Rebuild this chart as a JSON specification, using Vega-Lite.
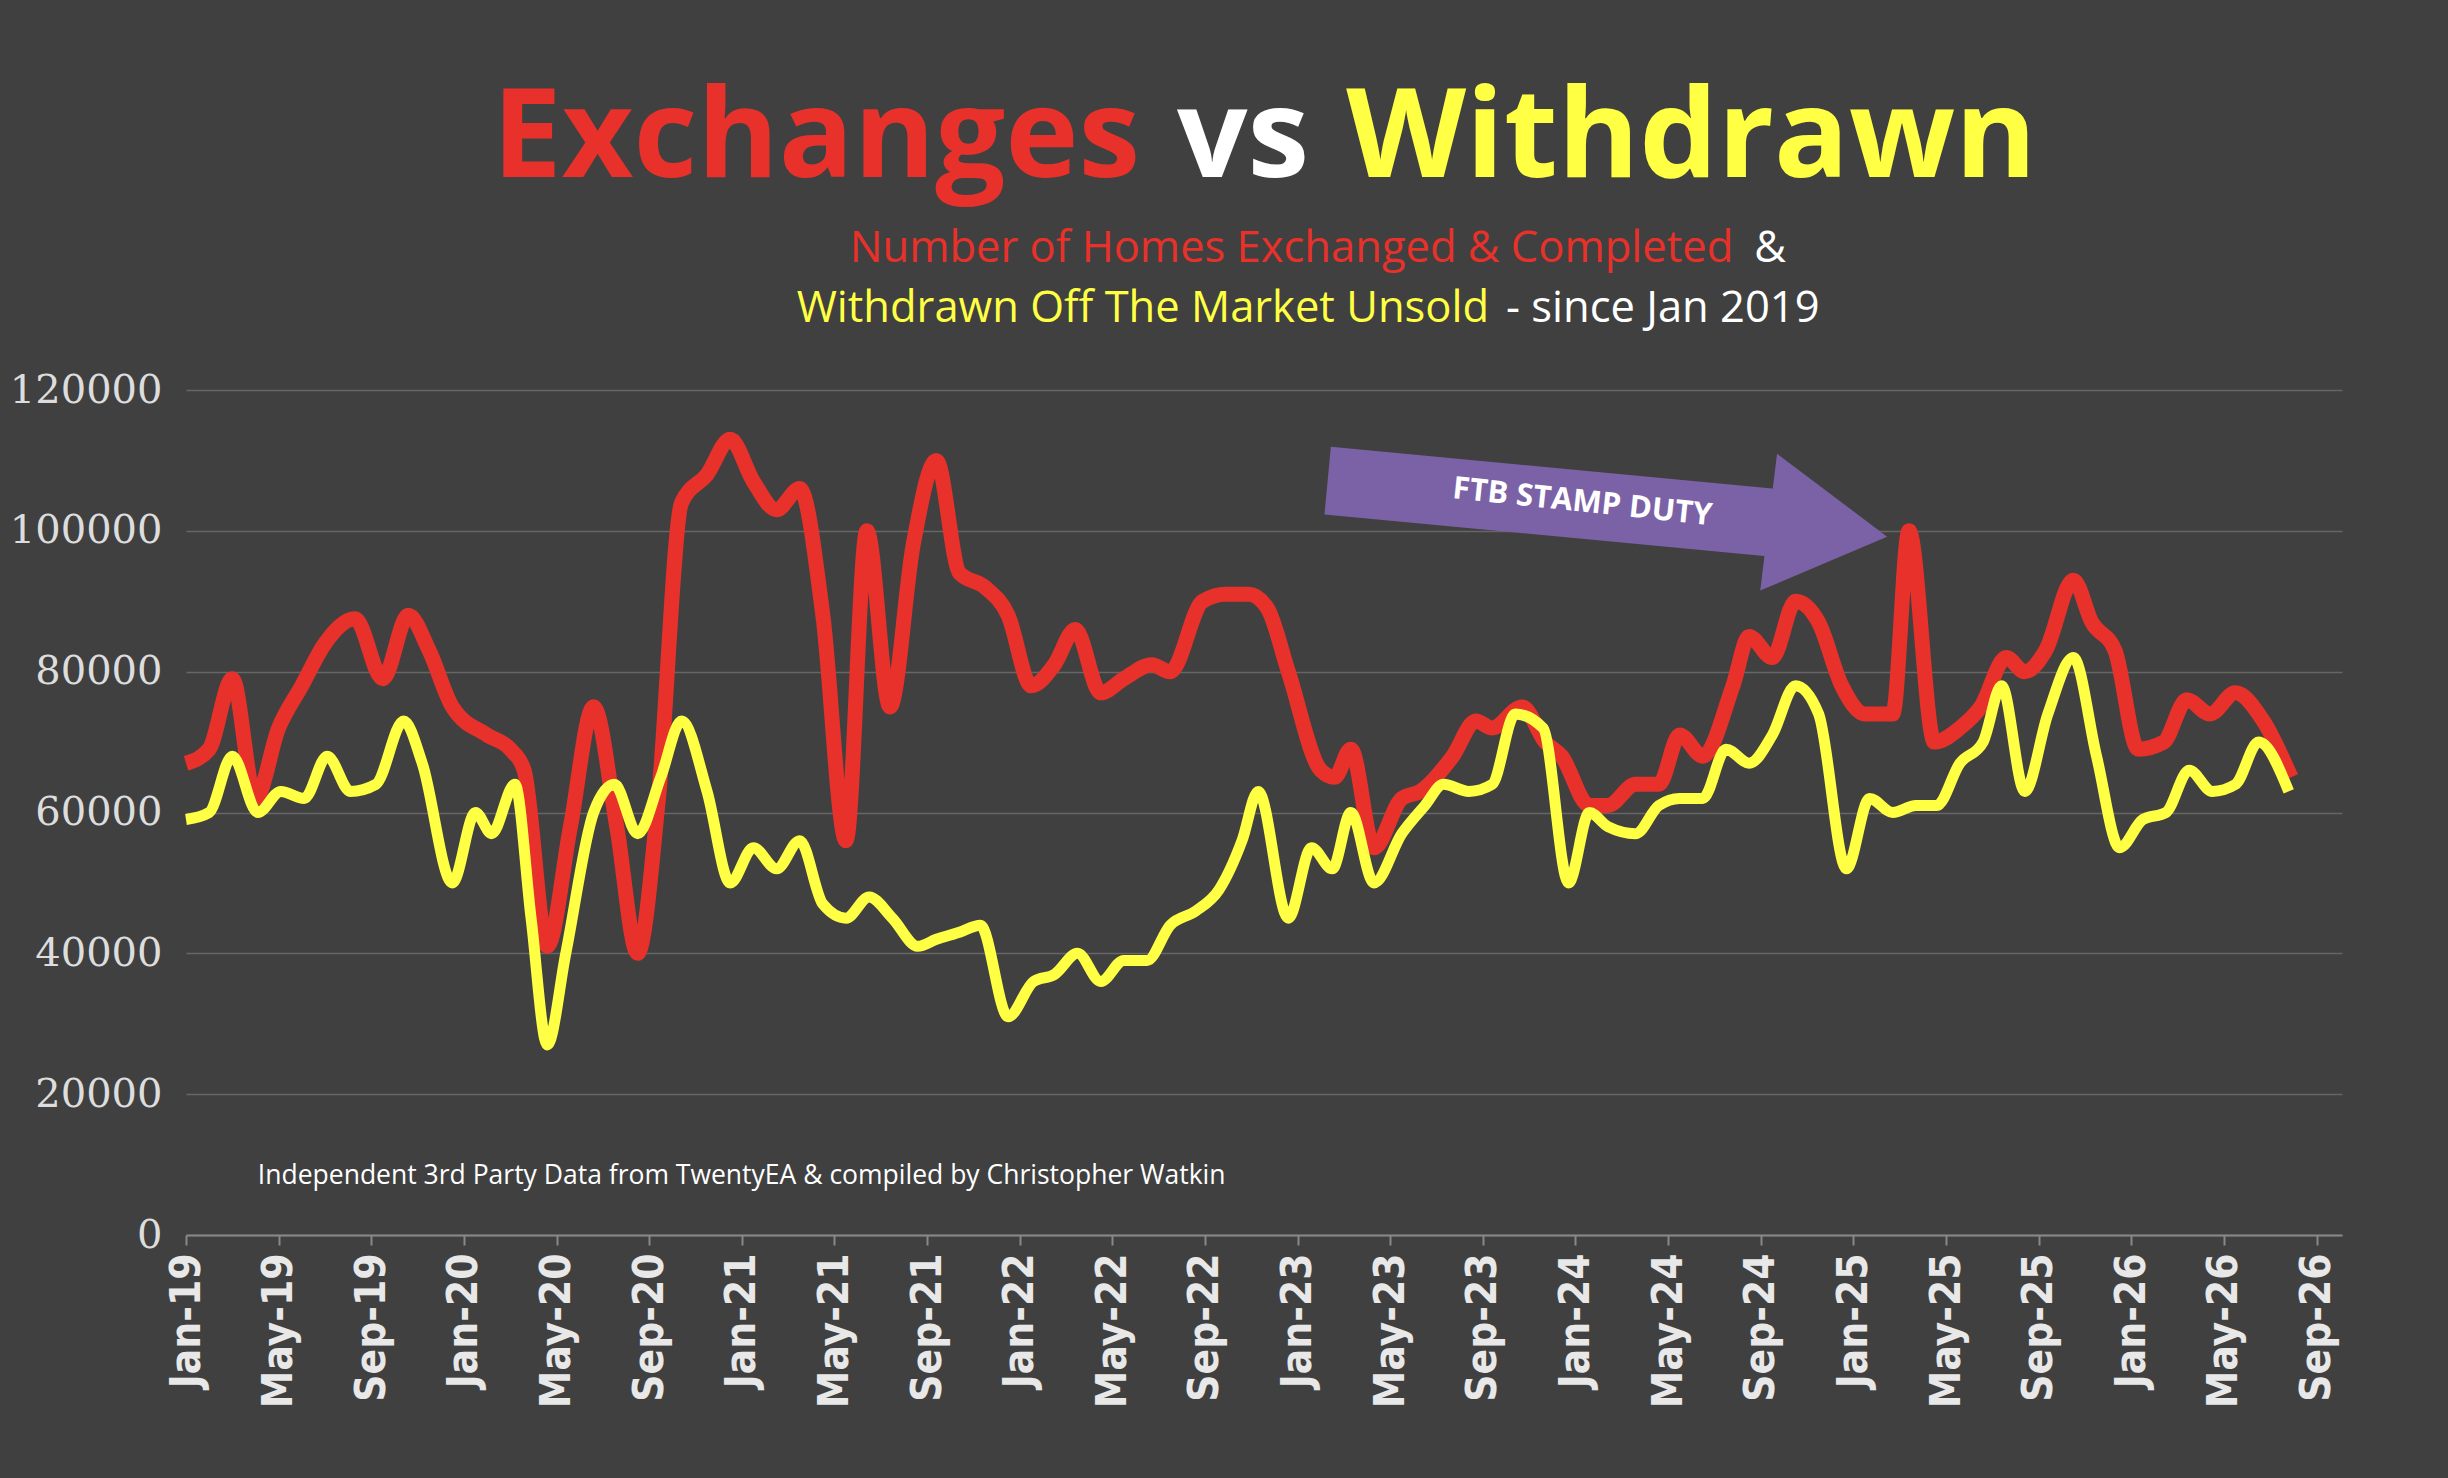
{
"$schema":"https://vega.github.io/schema/vega-lite/v6.json",
"width":2156,"height":845,
"autosize":{"type":"none"},
"padding":{"left":186,"top":390,"right":106,"bottom":243},
"background":"#404040",
"config":{"view":{"stroke":null}},
"datasets":{
"red":[[0,67000],[1,69000],[2,79000],[3,62000],[4,72000],[5,78000],[6,84000],[7.3,87500],[8.5,79000],[9.6,88000],[10.5,83000],[11.5,75000],[13,71000],[14,69000],[14.6,66000],[15.6,41000],[16.6,58000],[17.6,75000],[18.6,58000],[19.5,40000],[20.4,62000],[21.4,104000],[22.5,108000],[23.5,113000],[24.5,107000],[25.5,103000],[26.5,106000],[27.5,88000],[28.5,56000],[29.4,100000],[30.4,75000],[31.4,98000],[32.4,110000],[33.4,94000],[34.5,92000],[35.5,88000],[36.5,78000],[37.5,81000],[38.4,86000],[39.5,77000],[40.5,79000],[41.7,81000],[42.5,80000],[43.9,90000],[44.9,91000],[45.9,91000],[46.7,89000],[47.6,80000],[49,66000],[49.6,65000],[50.3,69000],[51.3,55000],[52.5,62000],[53.3,63000],[54.7,68000],[55.7,73000],[56.4,72000],[57.7,75000],[58.7,70000],[59.4,68000],[60.6,61000],[61.4,61000],[62.6,64000],[63.6,64000],[64.5,71000],[65.5,68000],[66.8,78000],[67.5,85000],[68.5,82000],[69.5,90000],[70.5,87000],[71.5,78000],[72.5,74000],[73.7,74000],[74.4,100000],[75.5,70000],[76.6,72000],[77.5,75000],[78.6,82000],[79.4,80000],[80.3,83000],[81.5,93000],[82.3,87000],[83.3,83000],[84.3,69000],[85.4,70000],[86.4,76000],[87.4,74000],[88.5,77000],[89.7,73000],[90.9,65000]],
"yellow":[[0,59000],[1,60000],[2,68000],[3.1,60000],[4.1,63000],[5.1,62000],[6.1,68000],[7.1,63000],[8.2,64000],[9.4,73000],[10.2,67000],[11.5,50000],[12.5,60000],[13.2,57000],[14.2,64000],[14.9,45000],[15.6,27000],[16.4,40000],[17.6,60000],[18.5,64000],[19.5,57000],[20.5,65000],[21.4,73000],[22.5,63000],[23.5,50000],[24.5,55000],[25.5,52000],[26.5,56000],[27.5,47000],[28.5,45000],[29.5,48000],[30.5,45000],[31.6,41000],[32.4,42000],[33.4,43000],[34.3,44000],[35.5,31000],[36.6,36000],[37.5,37000],[38.5,40000],[39.5,36000],[40.5,39000],[41.5,39000],[42.5,44000],[43.6,46000],[44.6,49000],[45.6,56000],[46.3,63000],[47.6,45000],[48.6,55000],[49.5,52000],[50.3,60000],[51.3,50000],[52.5,57000],[53.5,61000],[54.3,64000],[55.4,63000],[56.4,64000],[57.4,74000],[58.6,72000],[59.7,50000],[60.6,60000],[61.4,58000],[62.6,57000],[63.6,61000],[64.5,62000],[65.5,62000],[66.5,69000],[67.5,67000],[68.5,71000],[69.5,78000],[70.5,74000],[71.7,52000],[72.7,62000],[73.7,60000],[74.7,61000],[75.6,61000],[76.6,67000],[77.6,70000],[78.4,78000],[79.4,63000],[80.4,74000],[81.5,82000],[82.5,68000],[83.5,55000],[84.5,59000],[85.5,60000],[86.5,66000],[87.5,63000],[88.5,64000],[89.5,70000],[90.8,63000]]
},
"layer":[
{"data":{"name":"red"},"transform":[{"calculate":"datum[0]","as":"m"},{"calculate":"datum[1]","as":"v"}],
 "mark":{"type":"line","interpolate":"monotone","color":"#e8312a","strokeWidth":15,"strokeJoin":"round"},
 "encoding":{
  "x":{"field":"m","type":"quantitative","scale":{"domain":[0,93.1],"nice":false,"zero":false},
   "axis":{"values":[0,4,8,12,16,20,24,28,32,36,40,44,48,52,56,60,64,68,72,76,80,84,88,92],"labelExpr":"timeFormat(datetime(2019, datum.value, 1), '%b-%y')","labelAngle":-90,"labelFont":"DejaVu Sans Condensed","labelFontWeight":"bold","labelFontSize":42,"labelColor":"#e8e8e8","labelPadding":8,"title":null,"grid":false,"domainColor":"#888","domainWidth":2,"tickColor":"#888","tickSize":10,"tickWidth":2}},
  "y":{"field":"v","type":"quantitative","scale":{"domain":[0,120000],"nice":false},
   "axis":{"values":[0,20000,40000,60000,80000,100000,120000],"format":"d","labelFont":"DejaVu Serif","labelFontSize":40,"labelColor":"#dddddd","labelPadding":24,"title":null,"domain":false,"ticks":false,"gridColor":"#666","gridWidth":1.5}}}},
{"data":{"name":"yellow"},"transform":[{"calculate":"datum[0]","as":"m"},{"calculate":"datum[1]","as":"v"}],
 "mark":{"type":"line","interpolate":"monotone","color":"#ffff44","strokeWidth":11,"strokeJoin":"round"},
 "encoding":{"x":{"field":"m","type":"quantitative"},"y":{"field":"v","type":"quantitative"}}},
{"data":{"values":[{}]},"mark":{"type":"rule","color":"#7b62a6","strokeWidth":68,"strokeCap":"butt"},
 "encoding":{"x":{"datum":49.3},"y":{"datum":107140},"x2":{"datum":70.3},"y2":{"datum":100600}}},
{"data":{"values":[{}]},"mark":{"type":"point","shape":"triangle-right","filled":true,"color":"#7b62a6","size":19000,"angle":7,"opacity":1},
 "encoding":{"x":{"datum":70.9},"y":{"datum":100200}}},
{"data":{"values":[{"t":"FTB STAMP DUTY"}]},"mark":{"type":"text","font":"Open Sans","fontWeight":"bold","fontSize":31,"color":"white","angle":6},
 "encoding":{"x":{"datum":60.3},"y":{"datum":104000},"text":{"field":"t"}}},
{"data":{"values":[{"t":"Exchanges"}]},"mark":{"type":"text","font":"Open Sans","fontWeight":"bold","fontSize":124,"color":"#e8312a","align":"right"},
 "encoding":{"x":{"datum":41.2},"y":{"datum":155500},"text":{"field":"t"}}},
{"data":{"values":[{"t":"vs"}]},"mark":{"type":"text","font":"Open Sans","fontWeight":"bold","fontSize":124,"color":"white"},
 "encoding":{"x":{"datum":45.65},"y":{"datum":155500},"text":{"field":"t"}}},
{"data":{"values":[{"t":"Withdrawn"}]},"mark":{"type":"text","font":"Open Sans","fontWeight":"bold","fontSize":124,"color":"#ffff44","align":"left"},
 "encoding":{"x":{"datum":50.1},"y":{"datum":155500},"text":{"field":"t"}}},
{"data":{"values":[{"t":"Number of Homes Exchanged & Completed"}]},"mark":{"type":"text","font":"Open Sans","fontSize":43.5,"color":"#e8312a","align":"left"},
 "encoding":{"x":{"datum":28.66},"y":{"datum":140000},"text":{"field":"t"}}},
{"data":{"values":[{"t":"&"}]},"mark":{"type":"text","font":"Open Sans","fontSize":43.5,"color":"white"},
 "encoding":{"x":{"datum":68.4},"y":{"datum":140000},"text":{"field":"t"}}},
{"data":{"values":[{"t":"Withdrawn Off The Market Unsold"}]},"mark":{"type":"text","font":"Open Sans","fontSize":43.5,"color":"#ffff44","align":"left"},
 "encoding":{"x":{"datum":26.37},"y":{"datum":131500},"text":{"field":"t"}}},
{"data":{"values":[{"t":"- since Jan 2019"}]},"mark":{"type":"text","font":"Open Sans","fontSize":43.5,"color":"white","align":"left"},
 "encoding":{"x":{"datum":57.0},"y":{"datum":131500},"text":{"field":"t"}}},
{"data":{"values":[{"t":"Independent 3rd Party Data from TwentyEA  & compiled by Christopher Watkin"}]},"mark":{"type":"text","font":"Open Sans","fontSize":26.5,"color":"white","align":"left"},
 "encoding":{"x":{"datum":3.1},"y":{"datum":8430},"text":{"field":"t"}}}
]
}
